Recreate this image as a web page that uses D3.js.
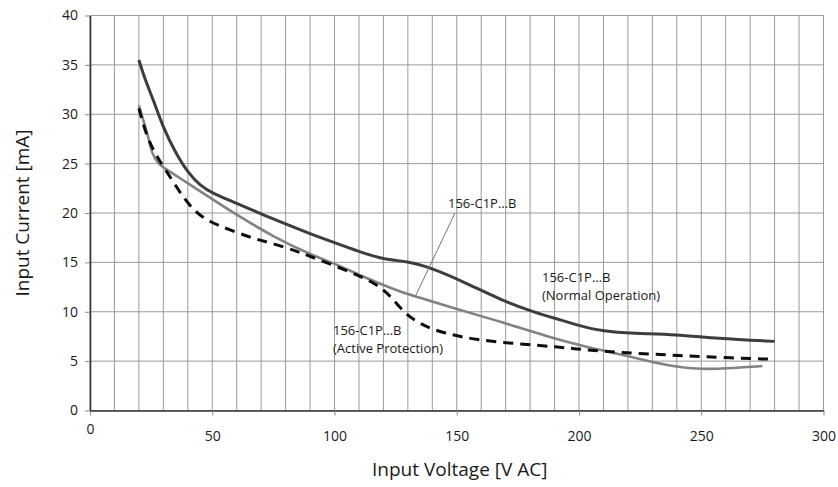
<!DOCTYPE html>
<html>
<head>
<meta charset="utf-8">
<script src="https://cdn.jsdelivr.net/npm/d3@7"></script>
<style>
    body { margin: 0; background: #fff; }
    svg text { font-family: "Open Sans", "DejaVu Sans", sans-serif; fill: #1a1a1a; }
</style>
</head>
<body>
<script>
const margin = { top: 15.5, right: 14.5, bottom: 76.5, left: 90 }
    , width = 838 - margin.left - margin.right
    , height = 487 - margin.top - margin.bottom

// axis ticks
const xTicks = [0, 50, 100, 150, 200, 250, 300]
const yTicks = [0, 5, 10, 15, 20, 25, 30, 35, 40]

// curves: [voltage, current]
const normalOperation = [
    [20, 35.5], [20, 35.5], [22.5, 33.5], [26, 31.4], [30, 28.6], [35, 26.1], [40, 24.1], [45, 22.8],
    [50, 22.0], [60, 21.0], [70, 19.9], [80, 18.9], [90, 17.9], [100, 17.0], [110, 16.1],
    [120, 15.3], [130, 15.1], [139, 14.5], [154, 12.9], [168, 11.2], [181, 10.0], [192, 9.2],
    [200, 8.6], [210, 8.0], [222, 7.8], [240, 7.7], [256, 7.3], [280, 7.0], [280, 7.0]
]
const standardCurve = [
    [20, 30.9], [20, 30.9], [22, 29.2], [24, 27.6], [25.3, 26.0], [28, 24.9], [31.5, 24.4], [40, 23.0],
    [50, 21.4], [60, 19.8], [75, 17.6], [90, 15.8], [100, 14.9], [113, 13.4], [127, 12.0],
    [134, 11.5], [147, 10.5], [168, 9.0], [188, 7.4], [202, 6.5], [215, 5.8], [229, 4.95],
    [239, 4.45], [250, 4.17], [260, 4.25], [275, 4.5], [275, 4.5]
]
const activeProtection = [
    [20, 30.6], [20, 30.6], [23.2, 27.7], [27.3, 25.7], [32.7, 23.7], [38, 21.6], [43.5, 20.0], [49, 19.1],
    [57, 18.3], [67, 17.4], [75, 16.9], [85, 16.1], [89, 15.7], [105, 14.2], [116, 13.0],
    [122.7, 11.7], [128, 10.0], [135, 8.7], [145, 7.8], [158, 7.15], [175, 6.75], [191, 6.45],
    [202, 6.15], [215, 5.9], [229, 5.72], [243, 5.55], [259, 5.35], [278, 5.2], [278, 5.2]
]

const svg = d3.select('body').append('svg')
    .attr('width', 838)
    .attr('height', 487)

const xScale = d3.scaleLinear()
    .domain([0, 300])
    .range([margin.left, margin.left + width])

const yScale = d3.scaleLinear()
    .domain([0, 40])
    .range([margin.top + height, margin.top])

// grid
svg.append('g').selectAll('line')
    .data(d3.range(0, 301, 10))
    .enter().append('line')
    .attr('x1', d => xScale(d)).attr('x2', d => xScale(d))
    .attr('y1', yScale(0)).attr('y2', yScale(40))
    .attr('stroke', '#9a9a9a')
    .attr('stroke-width', 1)

svg.append('g').selectAll('line')
    .data(yTicks)
    .enter().append('line')
    .attr('x1', xScale(0)).attr('x2', xScale(300))
    .attr('y1', d => yScale(d)).attr('y2', d => yScale(d))
    .attr('stroke', '#9a9a9a')
    .attr('stroke-width', 1)

// axes
const xAxis = svg.append('g')
    .attr('transform', 'translate(0,' + yScale(0) + ')')
    .call(d3.axisBottom(xScale).tickValues(xTicks).tickSize(5).tickSizeOuter(0).tickPadding(16))
xAxis.select('.domain').attr('stroke', '#333').attr('stroke-width', 1.6)
xAxis.selectAll('.tick line').attr('stroke', '#888')
xAxis.selectAll('.tick text').style('font-size', '14px')
    .attr('y', d => d === 0 ? 13.5 : 21)

const yAxis = svg.append('g')
    .attr('transform', 'translate(' + xScale(0) + ',0)')
    .call(d3.axisLeft(yScale).tickValues(yTicks).tickSize(5).tickSizeOuter(0).tickPadding(7))
yAxis.select('.domain').attr('stroke', '#333').attr('stroke-width', 1.6)
yAxis.selectAll('.tick line').attr('stroke', '#888')
yAxis.selectAll('.tick text').style('font-size', '14px')

// axis titles
svg.append('text')
    .attr('text-anchor', 'middle')
    .attr('transform', 'translate(29,' + (margin.top + height / 2) + ')rotate(-90)')
    .style('font-size', '19px')
    .text('Input Current [mA]')

svg.append('text')
    .attr('text-anchor', 'middle')
    .attr('x', margin.left + width / 2 + 3)
    .attr('y', 476)
    .style('font-size', '19px')
    .text('Input Voltage [V AC]')

// curves (end points doubled so the basis spline reaches them)
const line = d3.line()
    .x(d => xScale(d[0]))
    .y(d => yScale(d[1]))
    .curve(d3.curveBasis)

svg.append('path')
    .datum(standardCurve)
    .attr('d', line)
    .attr('fill', 'none')
    .attr('stroke', '#828282')
    .attr('stroke-width', 2.6)

svg.append('path')
    .datum(activeProtection)
    .attr('d', line)
    .attr('fill', 'none')
    .attr('stroke', '#0c0c16')
    .attr('stroke-width', 3)
    .attr('stroke-dasharray', '10,7')

svg.append('path')
    .datum(normalOperation)
    .attr('d', line)
    .attr('fill', 'none')
    .attr('stroke', '#3d3d3b')
    .attr('stroke-width', 3)

// labels
svg.append('line')
    .attr('x1', 455).attr('y1', 213)
    .attr('x2', 415).attr('y2', 297)
    .attr('stroke', '#6b7785')
    .attr('stroke-width', 1)

const addLabel = (x, y, lines) => {
    const t = svg.append('text')
        .attr('x', x).attr('y', y)
        .style('font-size', '13px')
    lines.forEach((s, i) => {
        t.append('tspan').attr('x', x).attr('dy', i === 0 ? 0 : 17.5).text(s)
    })
}
addLabel(448, 208, ['156-C1P…B'])
addLabel(542, 282, ['156-C1P…B', '(Normal Operation)'])
addLabel(333, 335, ['156-C1P…B', '(Active Protection)'])
</script>
</body>
</html>
